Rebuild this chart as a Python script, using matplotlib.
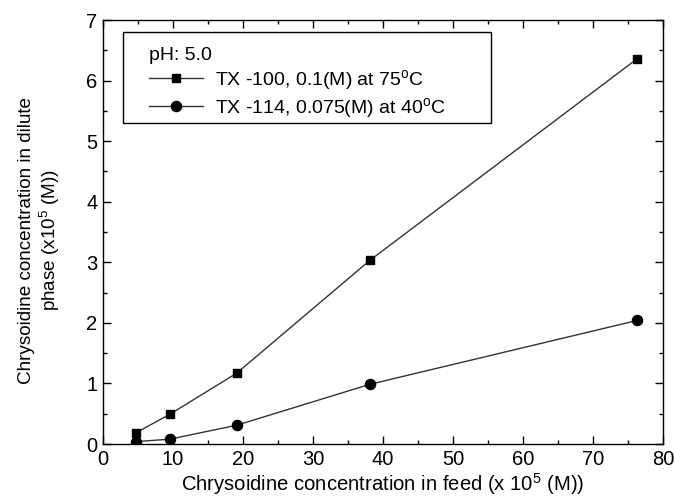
import matplotlib
matplotlib.use('Agg')
import matplotlib.pyplot as plt
from matplotlib.patches import Rectangle
from matplotlib.ticker import MultipleLocator

plt.rcParams['font.family'] = 'Liberation Sans'
plt.rcParams['mathtext.fontset'] = 'custom'
plt.rcParams['mathtext.rm'] = 'Liberation Sans'
plt.rcParams['mathtext.it'] = 'Liberation Sans:italic'

# data
feed = [4.77, 9.54, 19.1, 38.1, 76.3]
tx100 = [0.19, 0.49, 1.17, 3.03, 6.36]
tx114 = [0.04, 0.08, 0.31, 0.985, 2.04]

fig = plt.figure(figsize=(6.74, 4.98), dpi=100)
ax = fig.add_axes([0.1528, 0.1084, 0.8309, 0.8514])

ax.plot(feed, tx100, '-', color='#333333', lw=1.0, marker='s', ms=6.2,
        mfc='black', mec='black', label='TX -100, 0.1(M) at 75$^{\\mathrm{o}}$C')
ax.plot(feed, tx114, '-', color='#333333', lw=1.0, marker='o', ms=7.3,
        mfc='black', mec='black', label='TX -114, 0.075(M) at 40$^{\\mathrm{o}}$C')

ax.set_xlim(0, 80)
ax.set_ylim(0, 7)
ax.xaxis.set_major_locator(MultipleLocator(10))
ax.xaxis.set_minor_locator(MultipleLocator(5))
ax.yaxis.set_major_locator(MultipleLocator(1))
ax.yaxis.set_minor_locator(MultipleLocator(0.5))
ax.tick_params(which='both', direction='in', top=True, right=True,
               labelsize=14.5, width=1.0)
ax.tick_params(which='major', length=5.5, pad=4)
ax.tick_params(which='minor', length=3)
for s in ax.spines.values():
    s.set_linewidth(1.0)

ax.set_xlabel('Chrysoidine concentration in feed (x 10$^5$ (M))', fontsize=14.6, labelpad=2)
ax.set_ylabel('Chrysoidine concentration in dilute\nphase (x10$^5$ (M))', fontsize=13.6,
              linespacing=1.15)
ax.yaxis.set_label_coords(-0.0735, 0.481)

# legend frame drawn separately so the inner padding can match
ax.add_patch(Rectangle((0.035, 0.758), 0.657, 0.214, transform=ax.transAxes,
                       fill=True, fc='white', ec='black', lw=1.0, zorder=4))
leg = ax.legend(title='pH: 5.0', loc='upper left', bbox_to_anchor=(0.0815, 0.937),
                frameon=False, borderpad=0, borderaxespad=0, fontsize=14, title_fontsize=14,
                handlelength=2.78, handletextpad=0.62, labelspacing=0.22,
                alignment='left')
leg.set_zorder(5)

fig.savefig('out.png', dpi=100)
